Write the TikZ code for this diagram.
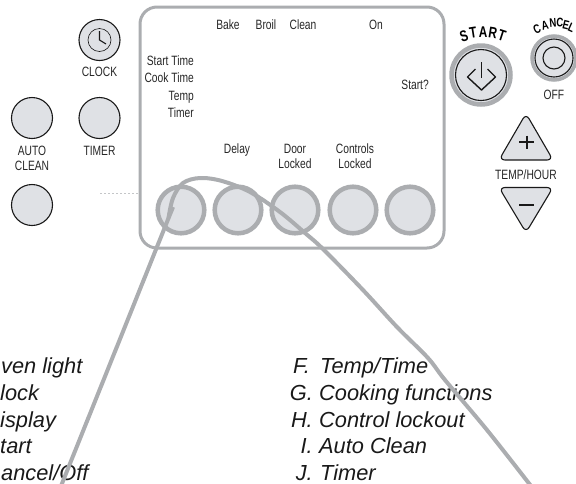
\documentclass[tikz,border=0pt]{standalone}
\usepackage{fontspec}
\setmainfont{Liberation Sans}
\newfontfamily\cond[FakeStretch=0.76]{Liberation Sans}
\definecolor{ringgray}{HTML}{ABADB0}
\definecolor{btnfill}{HTML}{DFE1E5}
\tikzset{
  x=1pt,y=-1pt,
  lbl/.style={font=\cond\fontsize{13.5}{14}\selectfont,inner sep=0pt,text=black!85,anchor=base},
  lble/.style={lbl,anchor=base east},
  ltr/.style={font=\cond\fontsize{15.5}{16}\selectfont\bfseries,inner sep=0pt},
  ltrs/.style={font=\cond\fontsize{12.5}{13}\selectfont\bfseries,inner sep=0pt},
  legend/.style={font=\fontsize{21.8}{22}\selectfont\itshape,inner sep=0pt,anchor=base west,text=black!90},
  ring/.style={draw=ringgray,line width=4.5pt,fill=btnfill,circle,minimum size=46.6pt,inner sep=0pt},
  blackbtn/.style={draw=black!90,line width=1.1pt,fill=btnfill,circle,minimum size=41pt,inner sep=0pt},
  sym/.style={draw=black!90,line width=1pt},
  lead/.style={draw=ringgray,line width=4pt},
}
\begin{document}
\begin{tikzpicture}
\useasboundingbox (0,0) rectangle (576,483);
\clip (0,0) rectangle (576,483);
% dashed stub and panel
\draw[ringgray!70,line width=1pt,dash pattern=on 2pt off 2pt] (100,193) -- (138,193);
\draw[ringgray,line width=3pt,rounded corners=17pt] (140,7) rectangle (444,248);
% display labels
\node[lbl] (bake) at (228,29.5) {Bake};
\node[lbl] (broil) at (266,29.5) {Broil};
\node[lbl] (clean) at (303,29.5) {Clean};
\node[lbl] (on) at (376,29.5) {On};
\node[lble] (st) at (194,65.5) {Start Time};
\node[lble] (ct) at (194,82.5) {Cook Time};
\node[lble] (tp) at (194,100) {Temp};
\node[lble] (tm) at (194,117.5) {Timer};
\node[lble] (sq) at (429,89.5) {Start?};
\node[lbl] (delay) at (237,153) {Delay};
\node[lbl] (door) at (295,153) {Door};
\node[lbl] (doorb) at (295,168) {Locked};
\node[lbl] (ctrl) at (355,153) {Controls};
\node[lbl] (ctrlb) at (355,168) {Locked};
% display circles
\node[ring] (r1) at (181,210) {};
\node[ring] (r2) at (238,210) {};
\node[ring] (r3) at (295,210) {};
\node[ring] (r4) at (353,210) {};
\node[ring] (r5) at (410,210) {};
% left buttons
\node[blackbtn] (clock) at (99.5,40) {};
\draw[sym,line width=.6pt] (clock) circle (11.5pt);
\draw[sym,line width=1.1pt] (99.5,31) -- (99.5,40) -- (106,44);
\node[lbl] (clocklbl) at (99.5,76) {CLOCK};
\node[blackbtn] (timer) at (99.5,118) {};
\node[lbl] (timerlbl) at (99.5,155) {TIMER};
\node[blackbtn] (auto) at (32,118) {};
\node[lbl] (autolbl) at (32,155) {AUTO};
\node[lbl] (autolblb) at (32,170) {CLEAN};
\node[blackbtn] (off) at (32,205) {};
% start
\node[circle,draw=ringgray,line width=4.5pt,fill=btnfill,minimum size=59pt,inner sep=0pt] (startout) at (481,75) {};
\node[circle,draw=black!90,line width=1.1pt,minimum size=51pt,inner sep=0pt] (startin) at (481,75) {};
\draw[sym,line width=1.4pt,line join=round] (475.5,69) -- (467.5,77) -- (481.5,90) -- (495.5,77) -- (487.5,69);
\draw[sym,line width=1.4pt] (481.5,62) -- (481.5,78);
\foreach \c/\x/\y/\r in {S/464/36/18,T/473/33/9,A/483/32/0,R/493/33/-9,T/502/36/-18}
  \node[ltr,rotate=\r] at (\x,\y) {\c};
% cancel
\node[circle,draw=ringgray,line width=3.5pt,fill=btnfill,minimum size=44pt,inner sep=0pt] (cancelout) at (554,58) {};
\node[circle,draw=black!90,line width=1.1pt,minimum size=38pt,inner sep=0pt] (cancelin) at (554,58) {};
\node[circle,draw=black!90,line width=1.1pt,minimum size=22pt,inner sep=0pt] (cancelsym) at (554,58) {};
\foreach \c/\x/\y/\r in {C/537/29/24,A/545/25/14,N/553/23/5,C/560/23/-5,E/566/25/-14,L/571.5/28/-24}
  \node[ltrs,rotate=\r] at (\x,\y) {\c};
\node[lbl] (offlbl) at (554,99.5) {OFF};
% temp
\draw[sym,fill=btnfill,rounded corners=6pt,line width=1.1pt] (526,113.5) -- (553,160) -- (499,160) -- cycle;
\draw[black!90,line width=2pt] (519,142) -- (534,142) (526.5,135.5) -- (526.5,148.5);
\node[lbl] (temphour) at (526,179) {TEMP/HOUR};
\draw[sym,fill=btnfill,rounded corners=6pt,line width=1.1pt] (499,187.5) -- (553,187.5) -- (526,232.5) -- cycle;
\draw[black!90,line width=2pt] (519,205) -- (534,205);
% legend
\node[legend] (la) at (1,373) {ven light};
\node[legend] (lb) at (0,400) {lock};
\node[legend] (lc) at (0,427) {isplay};
\node[legend] (ld) at (0,453) {tart};
\node[legend] (le) at (1,480) {ancel/Off};
\node[legend,anchor=base east] (ff) at (310,373) {F.};
\node[legend,anchor=base east] (gg) at (313,400) {G.};
\node[legend,anchor=base east] (hh) at (313,427) {H.};
\node[legend,anchor=base east] (ii) at (313,453) {I.};
\node[legend,anchor=base east] (jj) at (313,480) {J.};
\node[legend] (f) at (320,373) {Temp/Time};
\node[legend] (g) at (319,400) {Cooking functions};
\node[legend] (h) at (319,427) {Control lockout};
\node[legend] (i) at (319,453) {Auto Clean};
\node[legend] (j) at (320,480) {Timer};
% leader
\draw[lead] (61,486) -- (173,207);
\draw[lead,line join=round] plot[smooth,tension=.55] coordinates {(168.5,218) (173,198) (183,183) (200,178) (222,181) (250,192) (280,212) (305,233) (323,249) (363,290) (397,327) (428,358) (445,380) (487,430) (531,486)};
\end{tikzpicture}
\end{document}
